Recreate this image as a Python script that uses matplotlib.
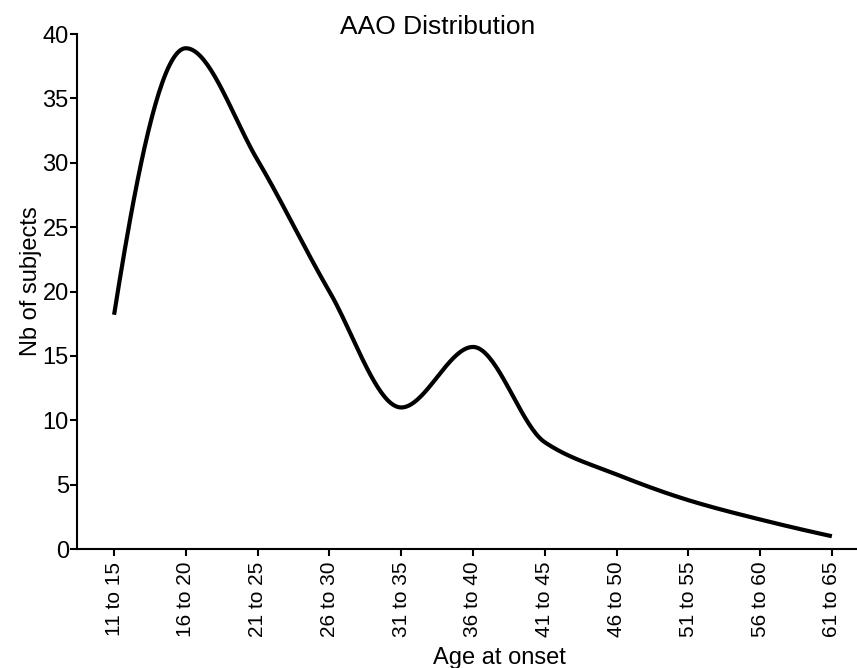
import numpy as np
import matplotlib
matplotlib.use("Agg")
import matplotlib.pyplot as plt

plt.rcParams['font.family'] = ['Liberation Sans Narrow', 'Liberation Sans', 'DejaVu Sans']

age_groups = ["11 to 15", "16 to 20", "21 to 25", "26 to 30", "31 to 35", "36 to 40",
              "41 to 45", "46 to 50", "51 to 55", "56 to 60", "61 to 65"]
nb_subjects = [18.2, 38.9, 30.2, 20.0, 11.0, 15.7, 8.3, 5.8, 3.8, 2.3, 1.0]


def pchip(y, n=40):
    # monotone cubic (Fritsch-Carlson) through the points, unit spacing
    y = np.asarray(y, float)
    d = np.diff(y)
    m = np.zeros_like(y)
    for k in range(1, len(y) - 1):
        if d[k - 1] * d[k] > 0:
            m[k] = 2.0 / (1.0 / d[k - 1] + 1.0 / d[k])
    for k, (a, b) in ((0, (d[0], d[1])), (-1, (d[-1], d[-2]))):
        e = (3 * a - b) / 2.0
        if np.sign(e) != np.sign(a):
            e = 0.0
        elif np.sign(a) != np.sign(b) and abs(e) > 3 * abs(a):
            e = 3 * a
        m[k] = e
    t = np.linspace(0, 1, n, endpoint=False)
    h00 = 2 * t**3 - 3 * t**2 + 1
    h10 = t**3 - 2 * t**2 + t
    h01 = -2 * t**3 + 3 * t**2
    h11 = t**3 - t**2
    xs, ys = [], []
    for k in range(len(y) - 1):
        xs.append(k + t)
        ys.append(h00 * y[k] + h10 * m[k] + h01 * y[k + 1] + h11 * m[k + 1])
    xs.append([len(y) - 1]); ys.append([y[-1]])
    return np.concatenate(xs), np.concatenate(ys)


fig = plt.figure(figsize=(8.57, 6.68), dpi=100)
ax = fig.add_axes([0.09, 0.178, 0.91, 0.771])

sx, sy = pchip(nb_subjects)
ax.plot(sx, sy, color="black", lw=3, solid_capstyle="butt")

ax.set_xlim(-0.515, 10.35)
ax.set_ylim(0, 40)
ax.set_xticks(range(len(age_groups)))
ax.set_xticklabels(age_groups, rotation=90, fontsize=15)
ax.set_yticks(range(0, 41, 5))
ax.tick_params(axis="y", labelsize=17, length=5, width=1.5, pad=1)
ax.tick_params(axis="x", length=5, width=1.5, pad=4)
for s in ("top", "right"):
    ax.spines[s].set_visible(False)
for s in ("left", "bottom"):
    ax.spines[s].set_linewidth(1.5)

ax.set_xlabel("Age at onset", fontsize=17)
ax.xaxis.set_label_coords(0.541, -0.19)
ax.set_ylabel("Nb of subjects", fontsize=17)
ax.yaxis.set_label_coords(-0.045, 0.52)
fig.text(0.5105, 0.9596, "AAO Distribution", ha="center", va="center", fontsize=19)

fig.savefig("out.png", dpi=100)
